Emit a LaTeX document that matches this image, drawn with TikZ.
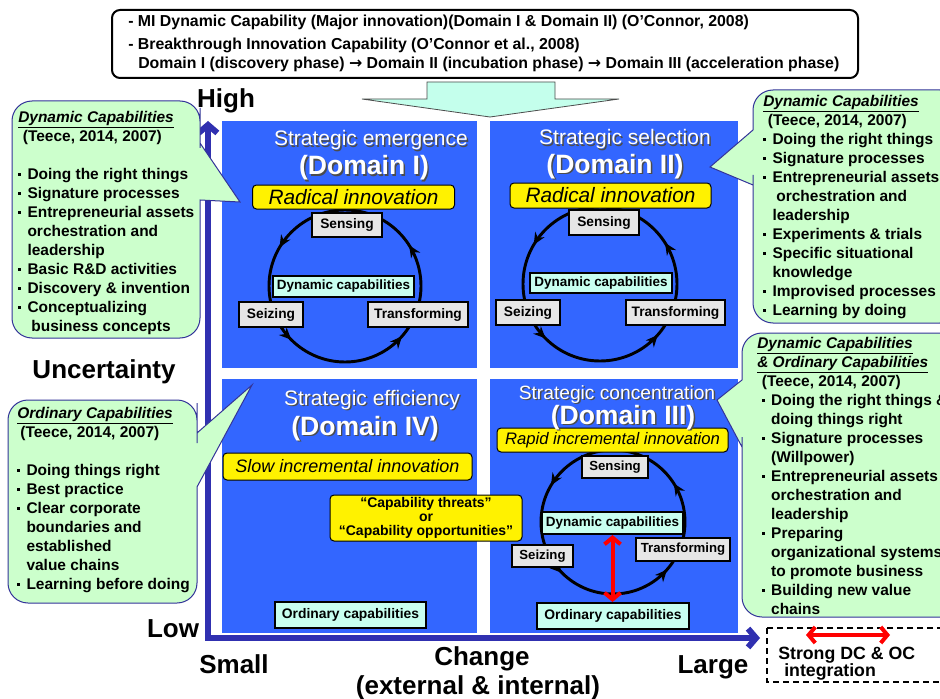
\documentclass[tikz,border=0pt]{standalone}
\usepackage{fontspec}
\setmainfont{Liberation Sans}
\newfontfamily\symfont{DejaVu Sans}
\usetikzlibrary{arrows.meta,decorations.markings}

\definecolor{quad}{RGB}{51,102,255}
\definecolor{axisblue}{RGB}{48,48,176}
\definecolor{callgreen}{RGB}{204,255,204}
\definecolor{calledge}{RGB}{51,51,153}
\definecolor{arrowcyan}{RGB}{196,255,236}
\definecolor{dcfill}{RGB}{200,255,240}
\definecolor{boxgray}{RGB}{230,230,230}
\definecolor{redarr}{RGB}{255,0,0}

% small square bullet and matching indent for callout lists
\newcommand\bu{\makebox[0.6em][l]{\raisebox{0.25em}{\rule{0.2em}{0.2em}}}}
\newcommand\ind{\hspace*{0.6em}}
\newcommand\fsz[1]{\fontsize{#1pt}{#1pt}\selectfont}
\newcommand\phasearrow{{\symfont\bfseries →}}

% white quadrant heading with a dark drop shadow behind it
\newcommand\qtext[5]{%
  \node[text=white,font=#4,anchor=base] (#1) at (#2,-#3)
    {\rlap{\kern1.1pt\raisebox{-1.1pt}{\textcolor{black!70}{#5}}}#5};}

\begin{document}
\begin{tikzpicture}[x=0.75pt,y=0.75pt,
  every node/.style={inner sep=0pt},
  sz/.style 2 args={minimum width={#1*0.75pt}, minimum height={#2*0.75pt}},
  graybox/.style={draw=black, line width=1.5pt, fill=boxgray, font=\bfseries\fsz{10.3}},
  dcbox/.style={draw=black, line width=1.5pt, fill=dcfill, font=\bfseries\fsz{10.1}},
  ybox/.style={draw=black, line width=0.75pt, fill=yellow, rounded corners=3pt},
  ctext/.style={anchor=base west, font=\bfseries\fsz{11.6}},
  axlabel/.style={anchor=base, font=\bfseries\fsz{19.5}},
  callout/.style={fill=callgreen, draw=calledge, line width=0.75pt},
  axisline/.style={draw=axisblue, line width=4.5pt,
    {Straight Barb[length=6pt,width=14pt]}-{Straight Barb[length=6pt,width=14pt]}},
  redarrow/.style={draw=redarr, line width=3pt,
    {Straight Barb[length=5pt,width=12pt]}-{Straight Barb[length=5pt,width=12pt]}},
  cyc/.style={line width=2.2pt, postaction={decorate}, decoration={markings,
    mark=at position 0.09 with {\arrow{Stealth[length=9pt,width=8pt]}},
    mark=at position 0.415 with {\arrow{Stealth[length=9pt,width=8pt]}},
    mark=at position 0.625 with {\arrow{Stealth[length=9pt,width=8pt]}},
    mark=at position 0.885 with {\arrow{Stealth[length=9pt,width=8pt]}}}}
]
\useasboundingbox (0,0) rectangle (940,-699);
\fill[white] (0,0) rectangle (940,-699);

% ---- four domains
\fill[quad] (222,-121) rectangle (477,-368);
\fill[quad] (490,-121) rectangle (738,-368);
\fill[quad] (222,-379) rectangle (477,-633);
\fill[quad] (490,-379) rectangle (738,-633);

% ---- header box and arrow into the matrix
\draw[line width=1.5pt, rounded corners=6pt, fill=white] (112,-10) rectangle (858,-78);
\node[anchor=base west, font=\bfseries\fsz{11.9}] (h1) at (128,-27)
  {- MI Dynamic Capability (Major innovation)(Domain I \& Domain II) (O’Connor, 2008)};
\node[anchor=base west, font=\bfseries\fsz{11.9}] (h2) at (128,-50)
  {- Breakthrough Innovation Capability (O’Connor et al., 2008)};
\node[anchor=base west, font=\bfseries\fsz{11.9}] (h3) at (138,-69)
  {Domain I (discovery phase) \phasearrow{} Domain II (incubation phase) \phasearrow{} Domain III (acceleration phase)};
\draw[fill=arrowcyan, draw=black!70, line width=0.6pt]
  (427,-82) -- (555,-82) -- (555,-99) -- (619,-99) -- (490,-117) -- (362,-99) -- (427,-99) -- cycle;

% ---- axes
\coordinate (origin) at (208,-638);
\coordinate (ytop) at (208,-121);
\coordinate (xend) at (760,-638);
\draw[axisline] (ytop) -- (origin) -- (xend);

% ---- Domain I
\draw[cyc] (345,-286) circle[radius=76];
\node[graybox, sz={70}{24}] (sen1) at (347,-225) {Sensing};
\node[dcbox, sz={141}{21}] (dc1) at (343.5,-286.5) {Dynamic capabilities};
\node[graybox, sz={64}{25}] (sei1) at (271,-314.5) {Seizing};
\node[graybox, sz={100}{25}] (tra1) at (418,-314.5) {Transforming};
\node[ybox, sz={202}{24}, font=\itshape\fsz{15.6}] (y1) at (353.5,-197) {Radical innovation};
\qtext{t1}{371}{146}{\fsz{15.75}}{Strategic emergence}
\qtext{d1}{364}{175}{\bfseries\fsz{19.9}}{(Domain I)}

% ---- Domain II
\draw[cyc] (600,-284) circle[radius=77];
\node[graybox, sz={70}{25}] (sen2) at (604,-222.5) {Sensing};
\node[dcbox, sz={142}{20}] (dc2) at (601,-283) {Dynamic capabilities};
\node[graybox, sz={64}{25}] (sei2) at (528,-312.5) {Seizing};
\node[graybox, sz={99}{25}] (tra2) at (675.5,-312.5) {Transforming};
\node[ybox, sz={201}{25}, font=\itshape\fsz{15.6}] (y2) at (610.5,-195.5) {Radical innovation};
\qtext{t2}{625}{145}{\fsz{15.75}}{Strategic selection}
\qtext{d2}{615}{173}{\bfseries\fsz{19.9}}{(Domain II)}

% ---- Domain IV
\qtext{t4}{372}{405}{\fsz{15.75}}{Strategic efficiency}
\qtext{d4}{365}{435}{\bfseries\fsz{19.9}}{(Domain IV)}
\node[ybox, sz={249}{27}, font=\itshape\fsz{13.5}] (y4) at (347.5,-466.5) {Slow incremental innovation};
\node[dcbox, sz={151}{26}, font=\bfseries\fsz{10.4}] (oc4) at (350.5,-615) {Ordinary capabilities};

% ---- Domain III
\draw[cyc] (613,-522) circle[radius=72];
\node[graybox, sz={66}{22}, font=\bfseries\fsz{9.9}] (sen3) at (615,-467) {Sensing};
\node[dcbox, sz={141}{22}] (dc3) at (612.5,-523) {Dynamic capabilities};
\node[graybox, sz={61}{22}, font=\bfseries\fsz{9.9}] (sei3) at (542.5,-556) {Seizing};
\node[graybox, sz={94}{23}, font=\bfseries\fsz{9.9}] (tra3) at (683,-549.5) {Transforming};
\node[dcbox, sz={152}{26}, font=\bfseries\fsz{10.4}] (oc3) at (613,-616) {Ordinary capabilities};
\draw[redarrow] (dc3.south) -- (dc3.south |- oc3.north);
\node[ybox, sz={231}{24}, font=\itshape\fsz{12.5}] (y3) at (612.5,-440) {Rapid incremental innovation};
\qtext{t3}{617}{399}{\fsz{14.4}}{Strategic concentration}
\qtext{d3}{623}{424}{\bfseries\fsz{19.9}}{(Domain III)}

% ---- threats / opportunities between IV and III
\node[ybox, sz={192}{46}, align=center, font=\bfseries\fsz{10.5}] (thr) at (426,-518)
  {“Capability threats”\\or\\“Capability opportunities”};

% ---- callouts
\path[callout] (106,-101) [rounded corners=15pt] -- (200,-101) -- (200,-128) [sharp corners]
  -- (200,-143) -- (240,-202) -- (200,-200) -- (200,-215) [rounded corners=15pt]
  -- (200,-338) -- (12,-338) -- (12,-101) -- cycle;
\path[callout] (850,-90) [rounded corners=15pt] -- (960,-90) -- (960,-323) -- (753,-323)
  -- (753,-195) [sharp corners] -- (753,-185) -- (710,-167) -- (753,-130)
  -- (753,-120) [rounded corners=15pt] -- (753,-90) -- cycle;
\path[callout] (100,-400) [rounded corners=15pt] -- (197,-400) -- (197,-423) [sharp corners]
  -- (197,-433) -- (252,-385) -- (197,-487) -- (197,-497) [rounded corners=15pt]
  -- (197,-603) -- (8,-603) -- (8,-400) -- cycle;
\path[callout] (850,-333) [rounded corners=15pt] -- (960,-333) -- (960,-617) -- (742,-617)
  -- (742,-457) [sharp corners] -- (742,-447) -- (717,-400) -- (742,-380)
  -- (742,-370) [rounded corners=15pt] -- (742,-333) -- cycle;

\foreach \t [count=\i from 0] in {%
  {\underline{\textit{Dynamic Capabilities}}},
  {\hspace*{0.3em}(Teece, 2014, 2007)},
  {},
  {\bu Doing the right things},
  {\bu Signature processes},
  {\bu Entrepreneurial assets},
  {\ind orchestration and},
  {\ind leadership},
  {\bu Basic R\&D activities},
  {\bu Discovery \& invention},
  {\bu Conceptualizing},
  {\ind\hspace*{0.25em}business concepts}}
  \node[ctext] (lt\i) at (18,{-(122.5+19*\i)}) {\t};

\foreach \t [count=\i from 0] in {%
  {\underline{\textit{Dynamic Capabilities}}},
  {\hspace*{0.3em}(Teece, 2014, 2007)},
  {\bu Doing the right things},
  {\bu Signature processes},
  {\bu Entrepreneurial assets},
  {\ind\hspace*{0.25em}orchestration and},
  {\ind leadership},
  {\bu Experiments \& trials},
  {\bu Specific situational},
  {\ind knowledge},
  {\bu Improvised processes},
  {\bu Learning by doing}}
  \node[ctext] (rt\i) at (763,{-(106.5+19*\i)}) {\t};

\foreach \t [count=\i from 0] in {%
  {\underline{\textit{Ordinary Capabilities}}},
  {\hspace*{0.2em}(Teece, 2014, 2007)},
  {},
  {\bu Doing things right},
  {\bu Best practice},
  {\bu Clear corporate},
  {\ind boundaries and},
  {\ind established},
  {\ind value chains},
  {\bu Learning before doing}}
  \node[ctext] (lb\i) at (17,{-(418.5+19*\i)}) {\t};

\foreach \t [count=\i from 0] in {%
  {\underline{\textit{Dynamic Capabilities}}},
  {\underline{\textit{\& Ordinary Capabilities}}},
  {\hspace*{0.3em}(Teece, 2014, 2007)},
  {\hspace*{0.3em}\bu Doing the right things \&},
  {\hspace*{0.3em}\ind doing things right},
  {\hspace*{0.3em}\bu Signature processes},
  {\hspace*{0.3em}\ind (Willpower)},
  {\hspace*{0.3em}\bu Entrepreneurial assets},
  {\hspace*{0.3em}\ind orchestration and},
  {\hspace*{0.3em}\ind leadership},
  {\hspace*{0.3em}\bu Preparing},
  {\hspace*{0.3em}\ind organizational systems},
  {\hspace*{0.3em}\ind to promote business},
  {\hspace*{0.3em}\bu Building new value},
  {\hspace*{0.3em}\ind chains}}
  \node[ctext] (rb\i) at (757,{-(348.5+19*\i)}) {\t};

% ---- axis labels
\node[axlabel] (high) at (226,-108) {High};
\node[axlabel] (unc) at (104,-378) {Uncertainty};
\node[axlabel] (low) at (173,-637) {Low};
\node[axlabel] (small) at (234,-673) {Small};
\node[axlabel] (change) at (482,-665) {Change};
\node[axlabel] (extint) at (478,-694) {(external \& internal)};
\node[axlabel] (large) at (713,-673) {Large};

% ---- legend: strong DC & OC integration
\draw[dashed, line width=1.5pt, dash pattern=on 4.5pt off 3pt] (767,-628) rectangle (946,-682);
\coordinate (ra1) at (806,-635);
\coordinate (ra2) at (890,-635);
\draw[redarrow] (ra1) -- (ra2);
\node[anchor=base west, font=\bfseries\fsz{13.3}] (leg1) at (778,-659) {Strong DC \& OC};
\node[anchor=base west, font=\bfseries\fsz{13.3}] (leg2) at (784,-676) {integration};
\end{tikzpicture}
\end{document}
